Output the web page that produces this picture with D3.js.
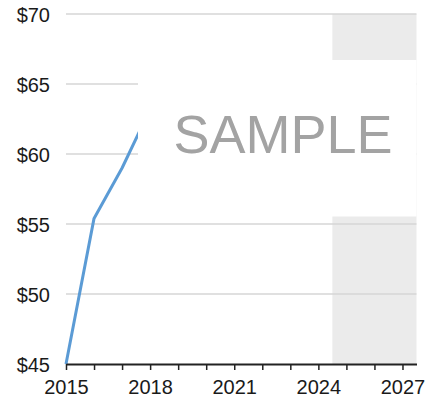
<!DOCTYPE html>
<html>
<head>
<meta charset="utf-8">
<script src="https://cdn.jsdelivr.net/npm/d3@7"></script>
<style>
  html, body { margin: 0; padding: 0; background: #fff; }
  svg { display: block; }
  text { font-family: "Liberation Sans", Arial, sans-serif; }
</style>
</head>
<body>
<svg id="chart" width="440" height="400"></svg>
<script>
// Price history (USD)
const years  = [2015, 2016, 2017, 2018];
const prices = [45.0, 55.4, 59.0, 63.2];

// Axis ticks and labels
const yTicks = [45, 50, 55, 60, 65, 70];
const xTicks = [2015, 2016, 2017, 2018, 2019, 2020, 2021, 2022, 2023, 2024, 2025, 2026, 2027];
const xLabelYears = [2015, 2018, 2021, 2024, 2027];

// Forecast period shading
const forecastStart = 2024.5;
const forecastEnd = 2027.5;

const svg = d3.select("#chart");
const margin = { left: 66, right: 23.5, top: 14, bottom: 36 };
const W = 440, H = 400;

const x = d3.scaleLinear().domain([2015, 2027.5]).range([margin.left, W - margin.right]);
const y = d3.scaleLinear().domain([45, 70]).range([H - margin.bottom, margin.top]);

// forecast band
svg.append("rect")
  .attr("x", x(forecastStart))
  .attr("y", y(70))
  .attr("width", x(forecastEnd) - x(forecastStart))
  .attr("height", y(45) - y(70))
  .attr("fill", "#ebebeb");

// horizontal gridlines
svg.append("g")
  .selectAll("line")
  .data(yTicks.filter(d => d !== 45))
  .join("line")
  .attr("x1", x(2015))
  .attr("x2", x(2027.5))
  .attr("y1", d => y(d))
  .attr("y2", d => y(d))
  .attr("stroke", "#d6d6d6")
  .attr("stroke-width", 1.5);

// y tick labels
svg.append("g")
  .selectAll("text")
  .data(yTicks)
  .join("text")
  .attr("x", 50)
  .attr("y", d => y(d))
  .attr("dy", "0.4em")
  .attr("text-anchor", "end")
  .attr("font-size", 20)
  .attr("fill", "#1a1a1a")
  .text(d => "$" + d);

// price line
const line = d3.line()
  .x((d, i) => x(years[i]))
  .y(d => y(d));

svg.append("path")
  .datum(prices)
  .attr("d", line)
  .attr("fill", "none")
  .attr("stroke", "#5b9bd5")
  .attr("stroke-width", 3)
  .attr("stroke-linejoin", "round");

// x axis
const xAxis = d3.axisBottom(x)
  .tickValues(xTicks)
  .tickSize(6)
  .tickSizeOuter(0)
  .tickFormat(d => xLabelYears.includes(d) ? String(d) : "");

const gx = svg.append("g")
  .attr("transform", `translate(0,${y(45)})`)
  .call(xAxis);
gx.select(".domain").attr("stroke", "#222").attr("stroke-width", 2);
gx.selectAll(".tick line").attr("stroke", "#222").attr("stroke-width", 1.5);
gx.selectAll(".tick text")
  .attr("font-size", 20)
  .attr("font-family", "'Liberation Sans', Arial, sans-serif")
  .attr("fill", "#1a1a1a")
  .attr("dy", "1.05em");

// watermark panel
const panel = svg.append("g");
panel.append("rect")
  .attr("x", 138)
  .attr("y", 60)
  .attr("width", x(2027.5) - 138)
  .attr("height", 156.5)
  .attr("fill", "#fff");
panel.append("text")
  .attr("x", 283)
  .attr("y", 153)
  .attr("text-anchor", "middle")
  .attr("font-size", 54)
  .attr("fill", "#a3a3a3")
  .text("SAMPLE");
</script>
</body>
</html>
